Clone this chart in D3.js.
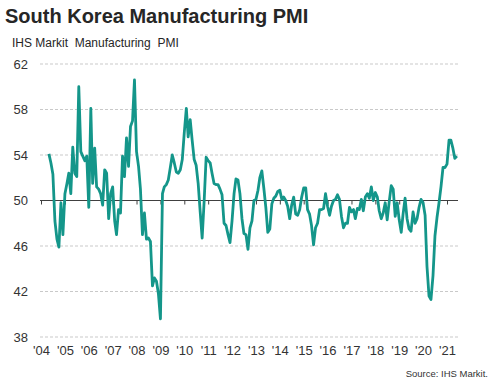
<!DOCTYPE html>
<html>
<head>
<meta charset="utf-8">
<script src="https://cdn.jsdelivr.net/npm/d3@7"></script>
<style>
  body { margin: 0; background: #fff; }
  text { font-family: "Liberation Sans", Arial, sans-serif; }
</style>
</head>
<body>
<svg id="chart" width="498" height="384"></svg>
<script>
const title = 'South Korea Manufacturing PMI'
const subtitle = 'IHS Markit  Manufacturing  PMI'
const source = 'Source: IHS Markit.'

const firstYear = 2004
const firstMonth = 4 // May (0-based)
const yearLabels = ["'04", "'05", "'06", "'07", "'08", "'09", "'10", "'11", "'12",
  "'13", "'14", "'15", "'16", "'17", "'18", "'19", "'20", "'21"]
const yTicks = [38, 42, 46, 50, 54, 58, 62]

// monthly index values, May 2004 - Jun 2021
const pmi = [
  54.1, 53.3, 52.3, 48.2, 46.6, 45.9, 49.8, 47.0,                         // 2004
  50.6, 51.5, 52.4, 50.6, 54.7, 52.4, 52.1, 60.0, 54.3, 53.9, 53.5, 53.9, // 2005
  49.4, 58.1, 51.5, 54.6, 51.2, 51.0, 50.6, 49.6, 52.7, 52.4, 48.4, 50.6, // 2006
  51.2, 48.2, 47.0, 49.2, 48.9, 53.9, 52.1, 55.5, 53.0, 56.5, 57.0, 60.6, // 2007
  54.3, 53.0, 51.0, 47.0, 48.9, 46.6, 46.7, 46.4, 42.5, 43.2, 42.9, 41.8, // 2008
  39.6, 50.6, 51.2, 51.4, 51.8, 52.9, 54.0, 53.3, 52.5, 52.4, 52.7, 53.6, // 2009
  56.0, 58.1, 55.6, 57.1, 55.3, 53.6, 53.1, 51.5, 49.0, 46.7, 50.0, 53.8, // 2010
  53.5, 53.3, 52.4, 51.5, 51.4, 51.4, 51.0, 50.5, 48.0, 47.8, 47.0, 46.3, // 2011
  48.2, 50.6, 51.9, 51.8, 50.6, 48.4, 47.1, 47.0, 45.7, 47.6, 48.2, 50.0, // 2012
  50.1, 50.9, 52.0, 52.6, 51.1, 49.4, 47.2, 47.5, 49.7, 50.2, 50.4, 50.8, // 2013
  50.9, 50.1, 50.3, 50.0, 49.5, 48.4, 49.6, 50.3, 48.8, 48.7, 49.2, 50.3, // 2014
  51.1, 51.1, 49.2, 48.8, 47.8, 46.1, 47.6, 48.0, 49.2, 49.2, 49.3, 50.6, // 2015
  49.5, 48.7, 49.5, 50.0, 50.1, 50.5, 50.1, 48.6, 47.6, 48.0, 48.0, 49.4, // 2016
  49.0, 49.2, 48.4, 49.3, 49.2, 50.1, 49.1, 50.3, 50.6, 50.2, 51.2, 50.0, // 2017
  50.7, 50.3, 49.1, 48.4, 48.9, 49.8, 48.3, 49.9, 51.3, 51.0, 48.6, 49.8, // 2018
  48.3, 47.2, 48.8, 50.2, 48.4, 47.5, 47.3, 49.0, 48.0, 48.4, 49.4, 50.1, // 2019
  49.8, 48.7, 44.2, 41.6, 41.3, 43.4, 46.9, 48.5, 49.8, 51.2, 52.9, 52.9, // 2020
  53.2, 55.3, 55.3, 54.6, 53.7, 53.9                                      // 2021
]

const data = pmi.map((v, i) => ({date: new Date(firstYear, firstMonth + i, 1), value: v}))
const years = yearLabels.map((l, i) => new Date(firstYear + i, 0, 1))

const svg = d3.select('#chart')
const left = 40
const right = 458

const x = d3.scaleTime()
  .domain([years[0], years[years.length - 1]])
  .range([41, 447])

const y = d3.scaleLinear()
  .domain([38, 62])
  .range([337, 64])

// titles
svg.append('text')
  .attr('x', 5).attr('y', 23)
  .attr('font-size', 20).attr('font-weight', 'bold')
  .attr('fill', '#262626')
  .text(title)

svg.append('text')
  .attr('x', 12).attr('y', 47)
  .attr('font-size', 12)
  .attr('fill', '#262626')
  .style('white-space', 'pre')
  .text(subtitle)

// gridlines
svg.append('g')
  .selectAll('line')
  .data(yTicks.filter(t => t !== 50))
  .enter()
  .append('line')
  .attr('x1', left).attr('x2', right)
  .attr('y1', d => y(d)).attr('y2', d => y(d))
  .attr('stroke', '#c9c9c9')
  .attr('stroke-dasharray', '3,2')

// y labels
const yAxis = svg.append('g')
  .attr('transform', 'translate(28,0)')
  .call(d3.axisLeft(y).tickValues(yTicks).tickSize(0).tickPadding(0))
yAxis.select('.domain').remove()
yAxis.selectAll('text')
  .attr('font-size', 13)
  .attr('font-family', '"Liberation Sans", Arial, sans-serif')
  .attr('fill', '#333')

// 50 line with year ticks
const midAxis = svg.append('g')
  .attr('transform', `translate(0,${y(50)})`)
  .call(d3.axisBottom(x).tickValues(years).tickSize(4).tickFormat(''))
midAxis.select('.domain').remove()
midAxis.selectAll('line').attr('stroke', '#404040')
svg.append('line')
  .attr('x1', left).attr('x2', right)
  .attr('y1', y(50)).attr('y2', y(50))
  .attr('stroke', '#404040')
  .attr('stroke-width', 1)

// year labels
const xAxis = svg.append('g')
  .attr('transform', 'translate(0,346)')
  .call(d3.axisBottom(x).tickValues(years).tickSize(0).tickPadding(0)
    .tickFormat((d, i) => yearLabels[i]))
xAxis.select('.domain').remove()
xAxis.selectAll('text')
  .attr('font-size', 13)
  .attr('font-family', '"Liberation Sans", Arial, sans-serif')
  .attr('fill', '#333')

// series
const line = d3.line()
  .x(d => x(d.date))
  .y(d => y(d.value))

svg.append('path')
  .datum(data)
  .attr('d', line)
  .attr('fill', 'none')
  .attr('stroke', '#14968a')
  .attr('stroke-width', 2.8)
  .attr('stroke-linejoin', 'round')

svg.append('text')
  .attr('x', 488).attr('y', 377)
  .attr('text-anchor', 'end')
  .attr('font-size', 9.5)
  .attr('fill', '#333')
  .text(source)
</script>
</body>
</html>
